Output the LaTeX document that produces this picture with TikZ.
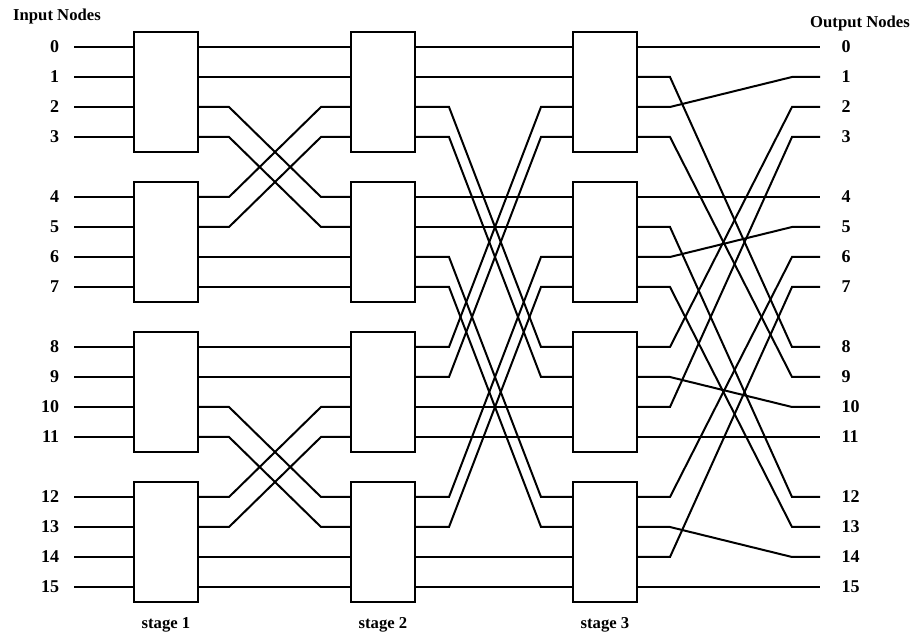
\documentclass[tikz,border=0pt]{standalone}
\usepackage{fontspec}
\setmainfont{Liberation Serif}
\usetikzlibrary{positioning}

\begin{document}
\begin{tikzpicture}[x=0.75pt,y=-0.75pt,
 sw/.style={draw,line width=1.5pt,minimum width=48pt,minimum height=90pt,inner sep=0pt},
 wire/.style={line width=1.5pt},
 lbl/.style={font=\bfseries\fontsize{13.5}{15}\selectfont,inner sep=1pt},
 hdr/.style={font=\bfseries\fontsize{12.5}{14}\selectfont}]
 \useasboundingbox (0,0) rectangle (922,641);
 % rows, line ends and bend columns
 \foreach \k in {0,...,15}{
   \pgfmathsetmacro\yy{47+150*int(\k/4)+30*mod(\k,4)}
   \coordinate (r\k) at (0,\yy);
   \coordinate (i\k) at (74,\yy);
   \coordinate (o\k) at (820,\yy);
 }
 \coordinate (c1) at (229,0); \coordinate (c2) at (321,0);
 \coordinate (c3) at (449,0); \coordinate (c4) at (541,0);
 \coordinate (c5) at (670,0); \coordinate (c6) at (792,0);
 % switch boxes
 \foreach \b in {0,...,3}{
   \node[sw] (s1-\b) at (166,92+150*\b) {};
   \node[sw] (s2-\b) at (383,92+150*\b) {};
   \node[sw] (s3-\b) at (605,92+150*\b) {};
 }
 \node[hdr] (inhead) at (57,16) {Input Nodes};
 \node[hdr] (outhead) at (860,23) {Output Nodes};
 \node[hdr,below=7pt of s1-3] (st1) {stage 1};
 \node[hdr,below=7pt of s2-3] (st2) {stage 2};
 \node[hdr,below=7pt of s3-3] (st3) {stage 3};
 % inputs and outputs
 \foreach \k in {0,...,15}{
   \node[lbl,left=10pt of i\k] (in\k) {\k};
   \node[lbl,right=15pt of o\k] (out\k) {\k};
   \draw[wire] (i\k) -- (i\k -| s1-0.west);
 }
 % stage 1 -> stage 2
 \foreach \a/\m in {0/0,1/1,2/4,3/5,4/2,5/3,6/6,7/7,8/8,9/9,10/12,11/13,12/10,13/11,14/14,15/15}
   \draw[wire] (r\a -| s1-0.east) -- (r\a -| c1) -- (r\m -| c2) -- (r\m -| s2-0.west);
 % stage 2 -> stage 3
 \foreach \a/\m in {0/0,1/1,2/8,3/9,4/4,5/5,6/12,7/13,8/2,9/3,10/10,11/11,12/6,13/7,14/14,15/15}
   \draw[wire] (r\a -| s2-0.east) -- (r\a -| c3) -- (r\m -| c4) -- (r\m -| s3-0.west);
 % stage 3 -> outputs
 \foreach \a/\m in {0/0,1/8,2/1,3/9,4/4,5/12,6/5,7/13,8/2,9/10,10/3,11/11,12/6,13/14,14/7,15/15}
   \draw[wire] (r\a -| s3-0.east) -- (r\a -| c5) -- (r\m -| c6) -- (o\m);
\end{tikzpicture}
\end{document}
